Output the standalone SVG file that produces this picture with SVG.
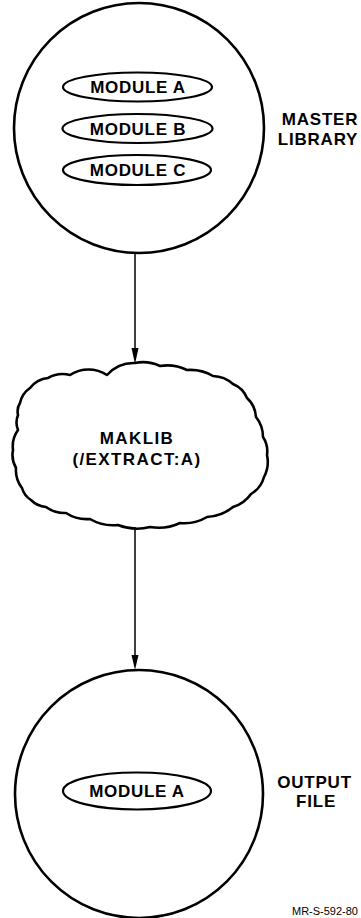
<svg xmlns="http://www.w3.org/2000/svg" width="361" height="918" viewBox="0 0 361 918">
<style>
.ln{fill:none;stroke:#000;stroke-width:2.6;stroke-linejoin:round}
.el{fill:none;stroke:#000;stroke-width:2.2}
.t{font-family:"Liberation Sans",Arial,Helvetica,sans-serif;font-weight:bold;font-size:17px;fill:#000;text-anchor:middle;letter-spacing:0.7px}
.lab{font-family:"Liberation Sans",Arial,Helvetica,sans-serif;font-weight:bold;font-size:17px;fill:#000;text-anchor:middle;letter-spacing:0.8px}
.c{stroke:#000;stroke-width:1.5;fill:none}
</style>
<rect width="361" height="918" fill="#fff"/>
<g id="connectors">
<line class="c" x1="135" y1="254" x2="135" y2="348"/>
<path d="M131.5,348 L138.5,348 L135,364 Z" fill="#000"/>
<line class="c" x1="135" y1="527" x2="135" y2="655"/>
<path d="M131.5,655 L138.5,655 L135,670 Z" fill="#000"/>
</g>
<g id="master-library">
<circle class="ln" cx="139" cy="128" r="125"/>
<ellipse class="el" cx="137.5" cy="87" rx="74.5" ry="14.5"/>
<text class="t" x="138" y="93">MODULE A</text>
<ellipse class="el" cx="137.5" cy="128.5" rx="75" ry="14.5"/>
<text class="t" x="138" y="134.5">MODULE B</text>
<ellipse class="el" cx="137" cy="170" rx="74" ry="15"/>
<text class="t" x="138" y="176">MODULE C</text>
<text class="lab" x="320" y="125">MASTER</text>
<text class="lab" x="318" y="145">LIBRARY</text>
</g>
<g id="maklib">
<path class="ln" d="M135,363 A40,40 0 0 1 160,366 A45,45 0 0 1 187,370 A45,45 0 0 1 213,376 A32,32 0 0 1 233,384 A26,26 0 0 1 247,398 A28,28 0 0 1 256,417 A32,32 0 0 1 263,437 A26,26 0 0 1 267,455 A32,32 0 0 1 264,477 A28,28 0 0 1 251,494 A34,34 0 0 1 233,507 A44,44 0 0 1 207,517 A44,44 0 0 1 180,523 A50,50 0 0 1 150,527 A52,52 0 0 1 118,525 A45,45 0 0 1 90,519 A38,38 0 0 1 66,513 A32,32 0 0 1 46,507 A24,24 0 0 1 31,500 A21,21 0 0 1 22,488 A29,29 0 0 1 16,468 A26,26 0 0 1 13,450 A28,28 0 0 1 18,430 A20,20 0 0 1 18,415 A16,16 0 0 1 20,403 A24,24 0 0 1 30,388 A26,26 0 0 1 48,378 A30,30 0 0 1 70,375 A34,34 0 0 1 107,375 A36,36 0 0 1 135,363 Z"/>
<text class="t" x="137" y="444" style="letter-spacing:1.4px">MAKLIB</text>
<text class="t" x="137" y="465" style="letter-spacing:1.4px">(/EXTRACT:A)</text>
</g>
<g id="output-file">
<circle class="ln" cx="139" cy="794" r="124"/>
<ellipse class="el" cx="137" cy="791" rx="74" ry="18.5"/>
<text class="t" x="137" y="797">MODULE A</text>
<text class="lab" x="314.5" y="788">OUTPUT</text>
<text class="lab" x="316" y="807">FILE</text>
</g>
<text x="358" y="915" font-family="'Liberation Sans',Arial,sans-serif" font-size="11" text-anchor="end" fill="#000">MR-S-592-80</text>
</svg>
